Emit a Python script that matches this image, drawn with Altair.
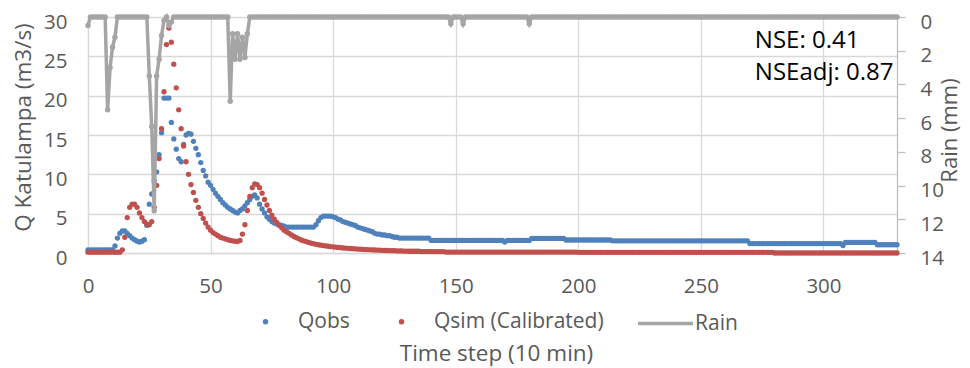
import altair as alt
import pandas as pd

# ---------------- data ----------------
N_STEPS = 331  # time steps 0..330

# Qobs, time steps 0..130
QOBS_HEAD = [
    0.4, 0.4, 0.4, 0.4, 0.4, 0.4, 0.4, 0.4, 0.4, 0.4,
    0.4, 0.9, 1.9, 2.5, 2.8, 2.8, 2.5, 2.2, 1.9, 1.7,
    1.5, 1.4, 1.5, 1.7, 3.5, 6.2, 7.5, 9.2, 10.3, 12.5,
    15.3, 19.7, 19.7, 19.7, 16.6, 14.5, 13.2, 12.0, 11.6, 13.8,
    15.0, 15.2, 15.1, 14.2, 13.3, 12.5, 11.5, 10.5, 9.8, 9.0,
    8.6, 8.1, 7.6, 7.2, 6.8, 6.4, 6.1, 5.8, 5.6, 5.4,
    5.2, 5.1, 5.4, 5.6, 6.0, 6.4, 6.8, 7.2, 7.4, 7.0,
    6.2, 5.6, 5.1, 4.6, 4.3, 4.0, 3.8, 3.7, 3.6, 3.5,
    3.4, 3.3, 3.3, 3.3, 3.3, 3.3, 3.3, 3.3, 3.3, 3.3,
    3.3, 3.3, 3.3, 3.6, 4.1, 4.5, 4.7, 4.7, 4.7, 4.7,
    4.6, 4.5, 4.3, 4.2, 4.0, 3.9, 3.8, 3.7, 3.6, 3.5,
    3.3, 3.2, 3.1, 3.0, 2.9, 2.8, 2.7, 2.5, 2.4, 2.4,
    2.3, 2.3, 2.2, 2.2, 2.1, 2.0, 2.0, 1.9, 1.9, 1.9,
    1.9,
]
# Qobs, time steps 131..330 as (value, number of steps) runs
QOBS_TAIL_RUNS = [
    (1.9, 9), (1.6, 30), (1.4, 1), (1.6, 10), (1.85, 14), (1.65, 19),
    (1.55, 56), (1.2, 38), (0.95, 1), (1.35, 13), (1.05, 9),
]

# Qsim (Calibrated), time steps 0..130
QSIM_HEAD = [
    0.1, 0.1, 0.1, 0.1, 0.1, 0.1, 0.1, 0.1, 0.1, 0.1,
    0.1, 0.1, 0.1, 0.1, 0.4, 2.0, 4.5, 5.8, 6.2, 6.2,
    5.8, 5.1, 4.5, 4.0, 3.7, 3.6, 4.0, 5.8, 8.6, 12.0,
    15.8, 20.5, 26.5, 28.6, 26.8, 24.0, 21.0, 18.2, 15.8, 13.6,
    11.6, 10.0, 8.7, 7.7, 6.7, 5.8, 5.0, 4.4, 3.8, 3.3,
    2.9, 2.6, 2.4, 2.2, 2.0, 1.9, 1.8, 1.7, 1.6, 1.55,
    1.5, 1.45, 1.6, 2.4, 3.6, 5.4, 7.2, 8.3, 8.8, 8.7,
    8.3, 7.6, 6.8, 6.1, 5.4, 4.8, 4.3, 3.9, 3.5, 3.2,
    2.9, 2.7, 2.5, 2.3, 2.1, 1.95, 1.8, 1.65, 1.55, 1.45,
    1.35, 1.25, 1.18, 1.1, 1.05, 1.0, 0.95, 0.9, 0.86, 0.82,
    0.78, 0.74, 0.71, 0.68, 0.65, 0.62, 0.6, 0.57, 0.55, 0.53,
    0.5, 0.48, 0.46, 0.44, 0.43, 0.41, 0.4, 0.38, 0.37, 0.36,
    0.34, 0.33, 0.32, 0.31, 0.3, 0.29, 0.28, 0.27, 0.26, 0.25,
    0.24,
]
QSIM_TAIL_RUNS = [(0.22, 5), (0.18, 10), (0.12, 54), (0.08, 80), (0.0, 51)]

# Rain: non-zero steps only (all other steps are 0 mm)
RAIN_STEPS = [0, 8, 9, 10, 11,
              25, 26, 27, 28, 29, 30, 31, 33, 34,
              58, 59, 60, 61, 62, 63, 64, 65,
              148, 153, 180]
RAIN_MM = [0.5, 5.5, 3.0, 1.8, 1.2,
           3.5, 6.5, 11.5, 3.5, 2.5, 1.1, 0.2, 0.5, 0.3,
           5.0, 1.0, 2.5, 1.0, 2.5, 1.2, 2.4, 1.0,
           0.4, 0.4, 0.4]

NSE_LABELS = ["NSE: 0.41", "NSEadj: 0.87"]
NSE_T = [272, 272]
NSE_Q = [26.9, 22.9]

X_TICKS = [0, 50, 100, 150, 200, 250, 300]
Y_TICKS = [0, 5, 10, 15, 20, 25, 30]
R_TICKS = [0, 2, 4, 6, 8, 10, 12, 14]

# ---------------- tables ----------------
def expand(head, runs):
    out = list(head)
    for value, count in runs:
        out.extend([value] * count)
    return out

steps = list(range(N_STEPS))
qobs = expand(QOBS_HEAD, QOBS_TAIL_RUNS)
qsim = expand(QSIM_HEAD, QSIM_TAIL_RUNS)
rain_lookup = dict(zip(RAIN_STEPS, RAIN_MM))
rain = [rain_lookup.get(t, 0.0) for t in steps]

q_df = pd.DataFrame({
    "t": steps + steps,
    "Q": qobs + qsim,
    "series": ["Qobs"] * N_STEPS + ["Qsim (Calibrated)"] * N_STEPS,
    "ord": list(range(2 * N_STEPS)),
})
rain_df = pd.DataFrame({"t": steps, "rain": rain, "series": ["Rain"] * N_STEPS})
nse_df = pd.DataFrame({"t": NSE_T, "Q": NSE_Q, "label": NSE_LABELS})

# ---------------- style ----------------
FONT = "Open Sans"
BLUE = "#4f81bd"
RED = "#c0504d"
GRAY = "#a5a5a5"
TXT = "#595959"
GRID = "#d9d9d9"
TICK_FS = 20.5
TITLE_FS = 22.5
LEG_FS = 21

x_enc = alt.X(
    "t:Q",
    scale=alt.Scale(domain=[0, 330], nice=False, zero=True),
    axis=alt.Axis(
        values=X_TICKS, title="Time step (10 min)", grid=True, gridColor=GRID,
        gridWidth=1.3, domainColor=GRID, domainWidth=1.3, ticks=False,
        labelFlush=False, labelPadding=23, labelFontSize=TICK_FS,
        labelFont=FONT, labelColor=TXT, titleFontSize=TITLE_FS,
        titleFont=FONT, titleColor=TXT, titleFontWeight="normal",
        titleX=408, titleY=100, titleBaseline="middle", titleAlign="center",
    ),
)

y_q = alt.Y(
    "Q:Q",
    scale=alt.Scale(domain=[0, 30], nice=False),
    axis=alt.Axis(
        values=Y_TICKS, title="Q Katulampa (m3/s)", grid=True, gridColor=GRID,
        gridWidth=1.3, domainColor=GRID, domainWidth=1.3, ticks=False,
        labelPadding=21, labelOffset=5, labelFontSize=TICK_FS, labelFont=FONT,
        labelColor=TXT, titleFontSize=TITLE_FS, titleFont=FONT, titleColor=TXT,
        titleFontWeight="normal", titleAngle=270, titleX=-65, titleY=110,
        titleBaseline="middle", titleAlign="center",
    ),
)

points = alt.Chart(q_df).mark_circle(size=28, opacity=1).encode(
    x=x_enc,
    y=y_q,
    color=alt.Color(
        "series:N",
        scale=alt.Scale(domain=["Qobs", "Qsim (Calibrated)"], range=[BLUE, RED]),
        legend=alt.Legend(
            title=None, orient="none", direction="horizontal", legendX=167,
            legendY=294, symbolType="circle", symbolSize=30, labelOffset=22,
            columnPadding=41, labelFontSize=LEG_FS, labelFont=FONT,
            labelColor=TXT, labelLimit=400, padding=0,
        ),
    ),
    order=alt.Order("ord:Q"),
)

nse_text = alt.Chart(nse_df).mark_text(
    align="left", baseline="middle", fontSize=24, font=FONT, color="#000000"
).encode(x=x_enc, y=y_q, text="label:N")

rain_chart = alt.Chart(rain_df).mark_line(
    strokeWidth=3.5,
    point=alt.OverlayMarkDef(filled=True, size=30),
).encode(
    x=x_enc,
    y=alt.Y(
        "rain:Q",
        scale=alt.Scale(domain=[0, 14], reverse=True, nice=False),
        axis=alt.Axis(
            orient="right", values=R_TICKS, title="Rain (mm)", grid=False,
            domainColor="#bfbfbf", domainWidth=1.3, tickColor="#bfbfbf",
            tickSize=8, tickWidth=1.3, labelPadding=15, labelOffset=5,
            labelFontSize=TICK_FS, labelFont=FONT, labelColor=TXT,
            titleFontSize=22, titleFont=FONT, titleColor=TXT,
            titleFontWeight="normal", titleAngle=270, titleX=52, titleY=113,
            titleBaseline="middle", titleAlign="center",
        ),
    ),
    color=alt.Color(
        "series:N",
        scale=alt.Scale(domain=["Rain"], range=[GRAY]),
        legend=alt.Legend(
            title=None, orient="none", legendX=548, legendY=277,
            symbolType="stroke", symbolSize=3025, symbolStrokeWidth=3.5,
            labelOffset=0, labelFontSize=LEG_FS, labelFont=FONT,
            labelColor=TXT, labelLimit=400, padding=0,
        ),
    ),
)

chart = alt.layer(
    alt.layer(points, nse_text),
    rain_chart,
).resolve_scale(
    y="independent", color="independent"
).properties(
    width=809,
    height=236,
    padding={"left": 80, "top": 9, "right": 65, "bottom": 115},
    autosize=alt.AutoSizeParams(type="none"),
    background="white",
).configure_view(stroke=None)

chart.save("out.html", embed_options={"renderer": "svg", "actions": False})
